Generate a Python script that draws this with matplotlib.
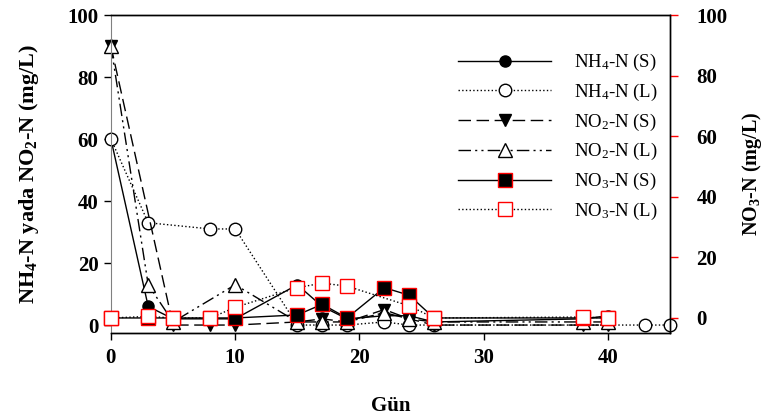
import matplotlib
matplotlib.use('Agg')
import matplotlib.pyplot as plt

plt.rcParams['font.family'] = ['Liberation Serif', 'DejaVu Serif']
plt.rcParams['mathtext.fontset'] = 'custom'
plt.rcParams['mathtext.rm'] = 'Liberation Serif'
plt.rcParams['mathtext.it'] = 'Liberation Serif:italic'
plt.rcParams['mathtext.bf'] = 'Liberation Serif:bold'

# data (day, mg/L)
day_nh4_s = [0, 3, 5, 8, 10, 15, 17, 19, 22, 24, 26, 38, 40]
nh4_s = [60, 6, 2, 2, 2, 13, 6, 2, 3, 3, 1, 2, 3]

day_nh4_l = [0, 3, 8, 10, 15, 17, 19, 22, 24, 26, 43, 45]
nh4_l = [60, 33, 31, 31, 0, 0, 0, 1, 0, 0, 0, 0]

day_no2_s = [0, 5, 8, 10, 15, 17, 19, 22, 24, 26, 38, 40]
no2_s = [90, 0, 0, 0, 1, 2, 1, 5, 2, 0, 0, 0]

day_no2_l = [0, 3, 5, 10, 15, 17, 19, 22, 24, 26, 38, 40]
no2_l = [90, 13, 1, 13, 1, 1, 1, 4, 2, 1, 1, 1]

day_no3_s = [0, 3, 5, 8, 10, 15, 17, 19, 22, 24, 26, 38, 40]
no3_s = [0, 0, 0, 0, 0, 1, 4.5, 0, 10, 7.5, 0, 0, 0]

day_no3_l = [0, 3, 5, 8, 10, 15, 17, 19, 24, 26, 38, 40]
no3_l = [0, 0.5, 0, 0, 3.5, 10, 11.5, 10.5, 4, 0, 0.3, 0]

labels = [r'NH$_4$-N (S)', r'NH$_4$-N (L)', r'NO$_2$-N (S)',
          r'NO$_2$-N (L)', r'NO$_3$-N (S)', r'NO$_3$-N (L)']

fig = plt.figure(figsize=(7.65, 4.19), dpi=100)
ax = fig.add_axes([0.145, 0.205, 0.731, 0.759])
ax2 = ax.twinx()

lw = 1.0
h1, = ax.plot(day_nh4_s, nh4_s, '-', color='black', lw=lw, marker='o', ms=8,
              mfc='black', mec='black', clip_on=False)
h2, = ax.plot(day_nh4_l, nh4_l, ':', color='black', lw=lw, marker='o', ms=9,
              mfc='white', mec='black', clip_on=False)
h3, = ax.plot(day_no2_s, no2_s, color='black', lw=lw, dashes=(9, 4), marker='v', ms=9,
              mfc='black', mec='black', clip_on=False)
h4, = ax.plot(day_no2_l, no2_l, color='black', lw=lw, dashes=(9, 3, 1.5, 3, 1.5, 3),
              marker='^', ms=10, mfc='white', mec='black', clip_on=False)
h5, = ax2.plot(day_no3_s, no3_s, '-', color='black', lw=lw, marker='s', ms=10,
               mfc='black', mec='red', clip_on=False)
h6, = ax2.plot(day_no3_l, no3_l, ':', color='black', lw=lw, marker='s', ms=10,
               mfc='white', mec='red', clip_on=False)

ax.set_xlim(0, 45)
ax.set_ylim(-2.6, 100)
ax2.set_ylim(-5, 100)
ax.set_xticks([0, 10, 20, 30, 40])
ax.set_yticks([0, 20, 40, 60, 80, 100])
ax2.set_yticks([0, 20, 40, 60, 80, 100])

for lab in ax.get_xticklabels() + ax.get_yticklabels() + ax2.get_yticklabels():
    lab.set_fontsize(15)
    lab.set_fontweight('bold')

ax.tick_params(axis='both', direction='out', length=5, width=1, pad=4)
ax.tick_params(axis='x', pad=6)
ax2.tick_params(axis='y', direction='out', length=6, width=1, color='red', pad=13)

ax.spines['left'].set_color('#808080')
ax2.spines['left'].set_visible(False)
for s in ['top', 'right', 'bottom']:
    ax.spines[s].set_linewidth(1)
    ax2.spines[s].set_linewidth(1)

ax.set_xlabel('Gün', fontsize=15, fontweight='bold', labelpad=20)
ax.set_ylabel(r'NH$_\mathbf{4}$-N yada NO$_\mathbf{2}$-N (mg/L)', fontsize=16,
              fontweight='bold', labelpad=19)
ax2.set_ylabel(r'NO$_\mathbf{3}$-N (mg/L)', fontsize=14.5, fontweight='bold',
               rotation=90, labelpad=9)

ax2.legend([h1, h2, h3, h4, h5, h6], labels, loc='upper left',
           bbox_to_anchor=(0.586, 0.898), bbox_transform=fig.transFigure,
           frameon=False, fontsize=13.5, handlelength=5.0, handletextpad=1.2,
           labelspacing=0.46, borderpad=0)

fig.savefig('out.png', dpi=100)
